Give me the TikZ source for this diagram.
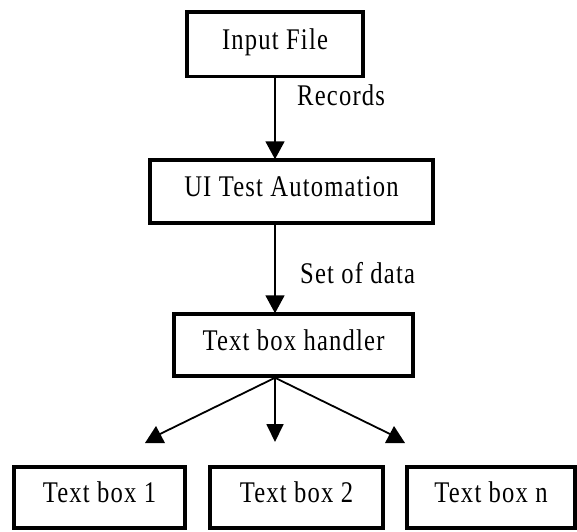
\documentclass[tikz,border=0pt]{standalone}
\usepackage{fontspec}
\setmainfont{Liberation Serif}[FakeStretch=0.82, LetterSpace=4]
\usetikzlibrary{arrows.meta}
\begin{document}
\begin{tikzpicture}[x=1pt,y=-1pt,
  txt/.style={font=\fontsize{30}{32}\selectfont},
  box/.style={draw, line width=3.5pt, inner sep=0pt, txt, text height=20pt, text depth=10pt},
  conn/.style={line width=1.8pt},
  tip/.style={-{Triangle[width=19pt,length=18pt]}},
  head/.style={fill=black},
  lbl/.style={txt, inner sep=0pt, anchor=base west}]
\useasboundingbox (0,0) rectangle (577,531);
\node[box, minimum width=176pt, minimum height=64.5pt] (input) at (275,44.25) {Input File};
\node[box, minimum width=283pt, minimum height=63pt] (ui) at (291.5,191.5) {UI Test Automation};
\node[box, minimum width=239pt, minimum height=62pt] (handler) at (293.5,345) {Text box handler};
\node[box, minimum width=171pt, minimum height=61pt] (tb1) at (99.5,497.5) {Text box 1};
\node[box, minimum width=173pt, minimum height=61pt] (tb2) at (296.5,497.5) {Text box 2};
\node[box, minimum width=168pt, minimum height=61pt] (tbn) at (491,497.5) {Text box n};
\node[lbl] (rec) at (297,105) {Records};
\node[lbl] (set) at (300,283) {Set of data};
% vertical arrows
\draw[conn, tip] (input.south) -- ([yshift=-1pt]input.south |- ui.north);
\draw[conn, tip] (input.south |- ui.south) -- ([yshift=-1pt]input.south |- handler.north);
% fork
\coordinate (fork) at (input.south |- handler.south);
\coordinate (e1) at (160,434);
\coordinate (en) at (390,434);
\coordinate (e2) at (275,442);
\draw[conn] (fork) -- (e1);
\draw[conn] (fork) -- (en);
\draw[conn, -{Triangle[width=17pt,length=18pt]}] (fork) -- (e2);
\fill[head] (145,443) -- (165,443) -- (156,426) -- cycle;
\fill[head] (385,443) -- (405,443) -- (394,426) -- cycle;
\end{tikzpicture}
\end{document}
